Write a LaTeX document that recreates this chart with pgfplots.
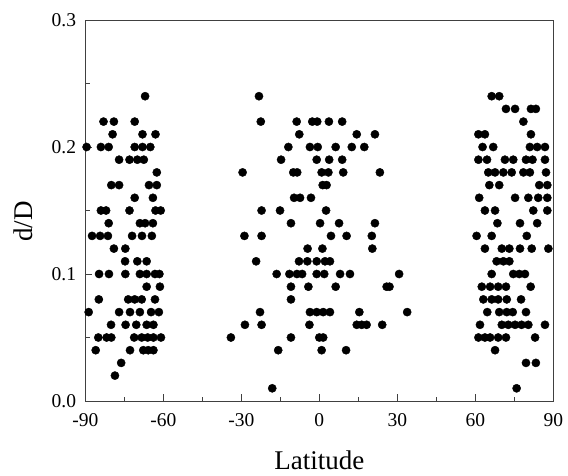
\documentclass[border=0pt]{standalone}
\usepackage{fontspec}
\setmainfont{Liberation Serif}
\usepackage{pgfplots}
\pgfplotsset{compat=1.18}
\usepackage{pgfplotstable}

\pgfplotstableread{
lat d
-67 0.24
-83 0.22
-79 0.22
-71 0.22
-79.5 0.21
-68 0.21
-63 0.21
-89.5 0.20
-84 0.20
-81 0.20
-71 0.20
-68 0.20
-65 0.20
-77 0.19
-73 0.19
-70 0.19
-67.5 0.19
-62.5 0.18
-80 0.17
-77 0.17
-65.5 0.17
-62.5 0.17
-71 0.16
-64 0.16
-84 0.15
-82 0.15
-73 0.15
-63 0.15
-61 0.15
-81 0.14
-69 0.14
-67 0.14
-64 0.14
-87.4 0.13
-84.3 0.13
-81.3 0.13
-72 0.13
-68.2 0.13
-64.4 0.13
-79 0.12
-74.6 0.12
-74.7 0.11
-70 0.11
-66.4 0.11
-84.7 0.10
-80.9 0.10
-74.6 0.10
-69 0.10
-66.4 0.10
-63.2 0.10
-61.5 0.10
-66.4 0.09
-61.3 0.09
-84.8 0.08
-73.5 0.08
-71 0.08
-68.3 0.08
-63.2 0.08
-88.7 0.07
-77 0.07
-72.8 0.07
-69 0.07
-64.7 0.07
-61.7 0.07
-80.1 0.06
-74.5 0.06
-70.4 0.06
-66.4 0.06
-63.8 0.06
-85 0.05
-81.8 0.05
-80 0.05
-71.2 0.05
-68.3 0.05
-66 0.05
-63.8 0.05
-60.9 0.05
-86 0.04
-72.8 0.04
-67.7 0.04
-65.8 0.04
-63.8 0.04
-76.2 0.03
-78.6 0.02
}\southdata

\pgfplotstableread{
lat d
-23.2 0.24
-22.5 0.22
-8.7 0.22
-2.7 0.22
-0.8 0.22
3.7 0.22
8.8 0.22
-7.7 0.21
14.4 0.21
21.4 0.21
-11.9 0.20
-3.6 0.20
-0.6 0.20
6.3 0.20
12.5 0.20
17.3 0.20
-14.7 0.19
-1 0.19
3.8 0.19
8.8 0.19
-29.5 0.18
-10 0.18
-8.5 0.18
0.9 0.18
3.5 0.18
9.2 0.18
23.3 0.18
1.3 0.17
2.8 0.17
-9.7 0.16
-7.4 0.16
-3.2 0.16
-22.2 0.15
-15.1 0.15
2.6 0.15
-10.9 0.14
0.3 0.14
7.6 0.14
21.4 0.14
-28.8 0.13
-22.2 0.13
4.5 0.13
10.5 0.13
20.2 0.13
-4.5 0.12
1.2 0.12
20.4 0.12
-24.3 0.11
-7.8 0.11
-4.6 0.11
-1.0 0.11
2.2 0.11
4.1 0.11
-16.4 0.10
-11.5 0.10
-8.6 0.10
-6.6 0.10
-1 0.10
1.9 0.10
8 0.10
11.8 0.10
30.7 0.10
-10.9 0.09
-4.2 0.09
6.3 0.09
25.9 0.09
27 0.09
-10.9 0.08
-22.8 0.07
-3.6 0.07
-1 0.07
1.5 0.07
4.1 0.07
15.4 0.07
33.8 0.07
-28.6 0.06
-22.2 0.06
-3.8 0.06
14.4 0.06
16.3 0.06
18.2 0.06
24.2 0.06
-34 0.05
-10.9 0.05
0 0.05
1.5 0.05
-15.8 0.04
0.9 0.04
10.3 0.04
-18.1 0.01
}\middata

\pgfplotstableread{
lat d
66.3 0.24
69.2 0.24
71.8 0.23
75.3 0.23
81.4 0.23
83.3 0.23
78.5 0.22
61.2 0.21
63.7 0.21
81.4 0.21
62.8 0.20
66.9 0.20
81 0.20
83.8 0.20
86.8 0.20
61.2 0.19
64.5 0.19
71.4 0.19
74.6 0.19
79.5 0.19
82 0.19
86.8 0.19
65 0.18
67.6 0.18
70.8 0.18
74 0.18
78.5 0.18
81 0.18
87.2 0.18
65.4 0.17
69.2 0.17
84.6 0.17
87.7 0.17
61.5 0.16
75.3 0.16
80.4 0.16
84.2 0.16
87.7 0.16
63.7 0.15
67.6 0.15
82.3 0.15
87.7 0.15
68.5 0.14
77.2 0.14
83.8 0.14
60.5 0.13
66.3 0.13
79.8 0.13
63.7 0.12
70.2 0.12
73.1 0.12
77.2 0.12
81.7 0.12
88.1 0.12
68.2 0.11
70.8 0.11
73.1 0.11
66.3 0.10
74.6 0.10
76.9 0.10
79.1 0.10
62.5 0.09
65.7 0.09
68.8 0.09
71.8 0.09
81.3 0.09
63.1 0.08
66.3 0.08
68.8 0.08
72.1 0.08
77.6 0.08
64.6 0.07
69.2 0.07
72.1 0.07
74.4 0.07
79.5 0.07
61.8 0.06
70.2 0.06
72.7 0.06
75.3 0.06
77.8 0.06
80.4 0.06
86.8 0.06
61.2 0.05
63.7 0.05
65.7 0.05
68.8 0.05
71.8 0.05
83 0.05
67.6 0.04
79.5 0.03
83.3 0.03
75.9 0.01
}\northdata

\begin{document}
\begin{tikzpicture}
\useasboundingbox (-85.3pt,-74pt) rectangle (482.7pt,401pt);
\begin{axis}[
  at={(0,0)}, anchor=south west,
  scale only axis,
  width=468pt, height=381pt,
  xmin=-90, xmax=90, ymin=0, ymax=0.3,
  xtick={-90,-60,-30,0,30,60,90},
  xticklabels={-90,-60,-30,0,30,60,90},
  ytick={0,0.1,0.2,0.3},
  yticklabels={0.0,0.1,0.2,0.3},
  minor xtick={-75,-45,-15,15,45,75},
  minor ytick={0.05,0.15,0.25},
  tick pos=left,
  tick align=inside,
  major tick length=7pt,
  minor tick length=4.5pt,
  axis line style={line width=1pt, black!75},
  every tick/.style={line width=0.9pt, black!75},
  xticklabel style={font=\fontsize{19.5}{20}\selectfont, inner sep=0pt, anchor=north, yshift=-12pt},
  yticklabel style={font=\fontsize{19.5}{20}\selectfont, inner sep=0pt, anchor=east, xshift=-9pt},
  xlabel={Latitude},
  ylabel={d/D},
  xlabel style={font=\fontsize{27}{28}\selectfont, at={(axis description cs:0.5,-0.1785)}, anchor=base, inner sep=0pt},
  ylabel style={font=\fontsize{27}{28}\selectfont, at={(axis description cs:-0.1118,0.471)}, anchor=base, inner sep=0pt},
]
\addplot[only marks, mark=*, mark size=4.1pt, black] table[x=lat, y=d] {\southdata};
\addplot[only marks, mark=*, mark size=4.1pt, black] table[x=lat, y=d] {\middata};
\addplot[only marks, mark=*, mark size=4.1pt, black] table[x=lat, y=d] {\northdata};
\end{axis}
\end{tikzpicture}
\end{document}
